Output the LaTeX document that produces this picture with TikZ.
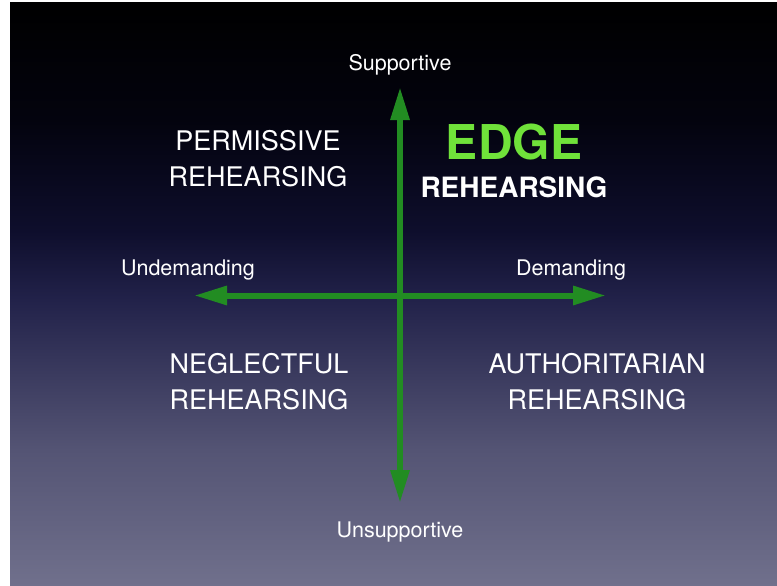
\documentclass[tikz,border=0pt]{standalone}
\usepackage{fontspec}
\setmainfont{TeX Gyre Heros}
\usetikzlibrary{arrows.meta}

\definecolor{axisgreen}{RGB}{34,140,34}
\definecolor{edgegreen}{RGB}{112,226,58}
\definecolor{bgA}{RGB}{3,3,14}
\definecolor{bgB}{RGB}{14,14,44}
\definecolor{bgC}{RGB}{34,34,74}
\definecolor{bgD}{RGB}{84,84,116}
\definecolor{bgE}{RGB}{112,112,140}

\pgfdeclareverticalshading{slidebg}{100bp}{color(0bp)=(bgE); color(25bp)=(bgE); color(36.7bp)=(bgD); color(49.5bp)=(bgC); color(55.5bp)=(bgB); color(65bp)=(bgA); color(75bp)=(black); color(100bp)=(black)}

\tikzset{
  axislabel/.style={text=white, font=\fontsize{21.5}{24}\selectfont},
  quadrant/.style={text=white, align=center, font=\fontsize{27}{36}\selectfont},
  axisarrow/.style={draw=axisgreen, line width=6pt, {Triangle[length=33pt,width=18pt]}-{Triangle[length=33pt,width=18pt]}},
}

\begin{document}
\begin{tikzpicture}[x=1pt,y=-1pt]

% page and slide background
\fill[white] (0,0) rectangle (777,586);
\shade[shading=slidebg] (10,3) rectangle (777,586);
\useasboundingbox (0,0) rectangle (777,586);

\coordinate (top) at (400,87);
\coordinate (bottom) at (400,503);
\coordinate (left) at (194,295.5);
\coordinate (right) at (606,295.5);

% axes
\draw[axisarrow] (bottom) -- (top);
\draw[axisarrow] (left) -- (right);

% axis labels
\node[axislabel] (supp) at (400,64.5) {Supportive};
\node[axislabel] (unsupp) at (400,532.5) {Unsupportive};
\node[axislabel] (undem) at (188,270.5) {Undemanding};
\node[axislabel] (dem) at (571,270.5) {Demanding};

% quadrants
\node[quadrant] (permissive) at (258,158.5) {PERMISSIVE\\REHEARSING};
\node[quadrant] (neglectful) at (259,381.5) {NEGLECTFUL\\REHEARSING};
\node[quadrant] (authoritarian) at (597,381.5) {AUTHORITARIAN\\REHEARSING};

\node[text=edgegreen, font=\fontsize{48}{50}\selectfont\bfseries] (edge) at (514,142) {EDGE};
\node[text=white, font=\fontsize{28}{30}\selectfont\bfseries] (edgesub) at (514,187) {REHEARSING};

\end{tikzpicture}
\end{document}
